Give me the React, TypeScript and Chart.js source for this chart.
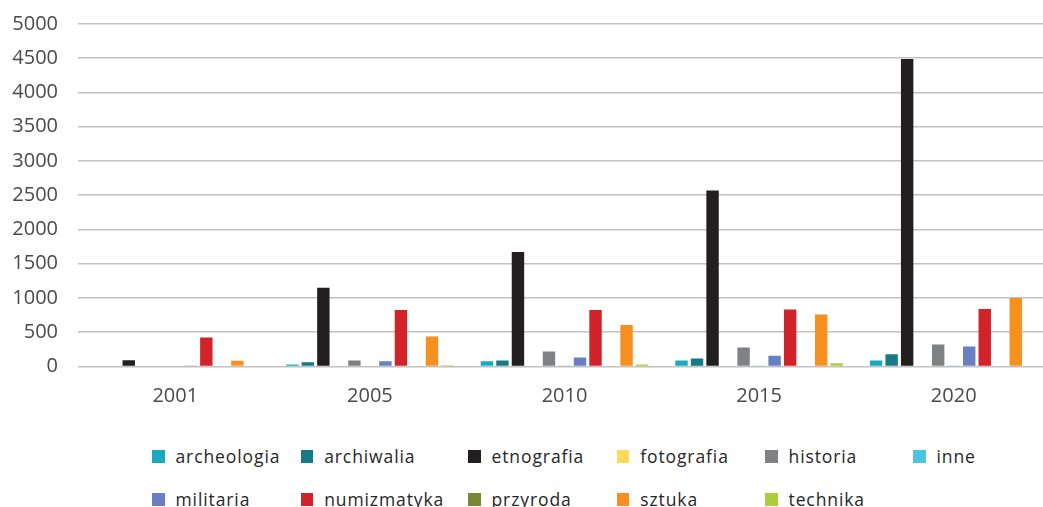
import React, { useEffect, useRef } from "react";
import { Chart, registerables } from "chart.js";

Chart.register(...registerables);

const categories = ["2001", "2005", "2010", "2015", "2020"];
const yTicks = [0, 500, 1000, 1500, 2000, 2500, 3000, 3500, 4000, 4500, 5000];

const archeologia = [0, 30, 78, 87, 87];
const archiwalia = [0, 63, 87, 117, 180];
const etnografia = [92, 1150, 1670, 2570, 4490];
const fotografia = [0, 0, 0, 0, 0];
const historia = [0, 87, 219, 277, 321];
const inne = [0, 0, 8, 8, 8];
const militaria = [15, 78, 131, 156, 292];
const numizmatyka = [425, 826, 826, 831, 841];
const przyroda = [0, 0, 0, 0, 12];
const sztuka = [85, 437, 607, 758, 1000];
const technika = [0, 19, 29, 49, 0];

const seriesNames = [
  "archeologia",
  "archiwalia",
  "etnografia",
  "fotografia",
  "historia",
  "inne",
  "militaria",
  "numizmatyka",
  "przyroda",
  "sztuka",
  "technika",
];
const seriesValues = [
  archeologia,
  archiwalia,
  etnografia,
  fotografia,
  historia,
  inne,
  militaria,
  numizmatyka,
  przyroda,
  sztuka,
  technika,
];
const seriesColors = [
  "#1aa9bd",
  "#167a87",
  "#231f20",
  "#ffd957",
  "#808184",
  "#4cc4e0",
  "#6a7fc1",
  "#d2232a",
  "#7a8637",
  "#f7901e",
  "#abcf3b",
];

// legend layout (grid columns like the original)
const legendCols = [152, 300.7, 468, 616.7, 765, 913];
const legendRows = [456.3, 499.3];

export default function App() {
  const canvasRef = useRef<HTMLCanvasElement | null>(null);

  useEffect(() => {
    if (!canvasRef.current) return;
    const chart = new Chart(canvasRef.current, {
      type: "bar",
      data: {
        labels: categories,
        datasets: seriesNames.map((name, i) => ({
          label: name,
          data: seriesValues[i],
          backgroundColor: seriesColors[i],
          borderWidth: 0,
          categoryPercentage: 0.877,
          barPercentage: 0.8,
        })),
      },
      options: {
        animation: false,
        responsive: false,
        layout: { padding: { top: 24, left: 0, right: 0, bottom: 0 } },
        plugins: {
          legend: { display: false },
          tooltip: { enabled: false },
        },
        scales: {
          x: {
            grid: { display: false, drawTicks: false },
            border: { display: false },
            ticks: {
              color: "#4a4a4a",
              padding: 18,
              font: { family: "'Open Sans'", size: 20 },
              maxRotation: 0,
            },
            afterFit: (scale: any) => {
              scale.height = 73.5;
              scale.paddingTop = 0;
              scale.paddingBottom = 0;
            },
          },
          y: {
            min: 0,
            max: 5000,
            afterBuildTicks: (scale: any) => {
              scale.ticks = yTicks.map((v) => ({ value: v }));
            },
            grid: { color: "#c2c2c2", lineWidth: 1.6, drawTicks: false },
            border: { display: false },
            ticks: {
              color: "#4a4a4a",
              padding: 20,
              font: { family: "'Open Sans'", size: 20 },
              callback: (v: any) => String(v),
            },
            afterFit: (scale: any) => {
              scale.width = 78;
              scale.paddingTop = 0;
              scale.paddingBottom = 0;
            },
          },
        },
      },
    });
    return () => chart.destroy();
  }, []);

  const rows = [seriesNames.slice(0, 6), seriesNames.slice(6)];

  return (
    <div
      style={{
        position: "fixed",
        left: 0,
        top: 0,
        width: 1043,
        height: 507,
        overflow: "hidden",
        background: "#ffffff",
      }}
    >
      <canvas
        ref={canvasRef}
        width={1051}
        height={440}
        style={{ position: "absolute", left: 0, top: 0, width: 1051, height: 440 }}
      />
      {rows.map((row, r) =>
        row.map((name, c) => {
          const idx = seriesNames.indexOf(name);
          return (
            <React.Fragment key={name}>
              <div
                style={{
                  position: "absolute",
                  left: legendCols[c],
                  top: legendRows[r] - 6.3,
                  width: 12.6,
                  height: 12.6,
                  background: seriesColors[idx],
                }}
              />
              <div
                style={{
                  position: "absolute",
                  left: legendCols[c] + 23.5,
                  top: legendRows[r] - 13,
                  height: 26,
                  lineHeight: "26px",
                  fontFamily: "'Open Sans'",
                  fontSize: 17.5,
                  letterSpacing: "0.9px",
                  color: "#262626",
                  whiteSpace: "nowrap",
                }}
              >
                {name}
              </div>
            </React.Fragment>
          );
        })
      )}
    </div>
  );
}
